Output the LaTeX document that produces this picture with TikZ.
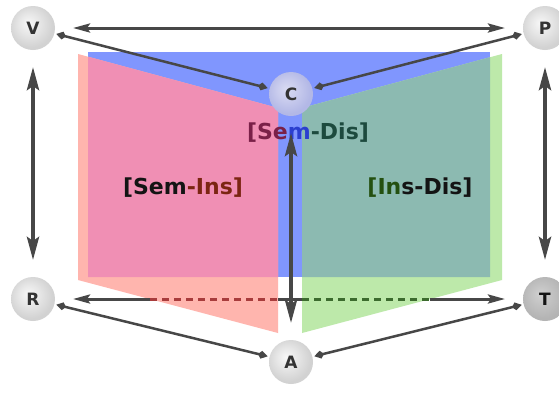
\documentclass[tikz,border=0pt]{standalone}
\usepackage{fontspec}
\setsansfont{DejaVu Sans}
\usetikzlibrary{arrows.meta}
\definecolor{arrgray}{HTML}{474747}
\definecolor{pblue}{HTML}{8096FE}
\definecolor{psalmon}{HTML}{FFB5AE}
\definecolor{ppink}{HTML}{F08FB4}
\definecolor{pgreen}{HTML}{BDE9AA}
\definecolor{pteal}{HTML}{8CBAB1}
\definecolor{dashred}{HTML}{A83C3C}
\definecolor{dashgreen}{HTML}{3C6B2E}
\definecolor{tmaroon}{HTML}{7A2048}
\definecolor{tblue}{HTML}{2B3FCF}
\definecolor{tteal}{HTML}{1D4A3E}
\definecolor{tred}{HTML}{7B2512}
\definecolor{tgreen}{HTML}{245010}
\definecolor{tdark}{HTML}{141414}
\definecolor{ndtext}{HTML}{333333}
\definecolor{ballA}{HTML}{F7F7F7}
\definecolor{ballB}{HTML}{E6E6E6}
\definecolor{ballC}{HTML}{D2D2D2}
\definecolor{tballA}{HTML}{D0D0D0}
\definecolor{tballB}{HTML}{C2C2C2}
\definecolor{tballC}{HTML}{B4B4B4}
\definecolor{cballA}{HTML}{D8DAF2}
\definecolor{cballB}{HTML}{C8CBED}
\definecolor{cballC}{HTML}{B3B8E6}
\pgfdeclareradialshading{nodeball}{\pgfpoint{-6bp}{6bp}}{color(0bp)=(ballA); color(12bp)=(ballB); color(25bp)=(ballC); color(50bp)=(ballC)}
\pgfdeclareradialshading{nodeballdark}{\pgfpoint{-6bp}{6bp}}{color(0bp)=(tballA); color(12bp)=(tballB); color(25bp)=(tballC); color(50bp)=(tballC)}
\pgfdeclareradialshading{nodeballc}{\pgfpoint{-6bp}{6bp}}{color(0bp)=(cballA); color(12bp)=(cballB); color(25bp)=(cballC); color(50bp)=(cballC)}
\tikzset{
  ballnode/.style={circle, minimum size=44pt, inner sep=0pt, outer sep=0pt, shading=nodeball,
    text=ndtext, font=\sffamily\bfseries\fontsize{17}{19}\selectfont},
  hline/.style={draw=arrgray, line width=3pt},
  harrow/.style={hline, {Stealth[length=17pt,width=9pt,inset=3pt]}-{Stealth[length=17pt,width=9pt,inset=3pt]}, shorten <=18pt, shorten >=18pt},
  varrow/.style={draw=arrgray, line width=4pt, {Stealth[length=23pt,width=12pt,inset=4pt]}-{Stealth[length=23pt,width=12pt,inset=4pt]}, shorten <=17pt, shorten >=17pt},
  darrow/.style={draw=arrgray, line width=2.5pt, {Kite[length=10pt,width=8pt,inset=3.5pt]}-{Kite[length=10pt,width=8pt,inset=3.5pt]}, shorten <=2pt, shorten >=2pt},
  dashseg/.style={line width=3pt, dash pattern=on 7pt off 5pt},
  biglabel/.style={font=\sffamily\bfseries\fontsize{22}{26}\selectfont, inner sep=0pt},
}
\begin{document}
\begin{tikzpicture}[x=1pt, y=-1pt]
\clip (0,0) rectangle (559,392);
\fill[white] (0,0) rectangle (559,392);
% panels
\fill[pblue] (88,52) rectangle (490,277);
\fill[psalmon] (78,54) -- (278,108) -- (278,333) -- (78,280) -- cycle;
\fill[pgreen] (302,108) -- (502,54) -- (502,280) -- (302,333) -- cycle;
\fill[ppink] (88,56.7) -- (278,108) -- (278,277) -- (88,277) -- cycle;
\fill[pteal] (302,108) -- (490,57.2) -- (490,277) -- (302,277) -- cycle;
% nodes
\node[ballnode] (V) at (33,28) {V};
\node[ballnode] (P) at (545,28) {P};
\node[ballnode, shading=nodeballc] (C) at (291,94) {C};
\node[ballnode] (R) at (33,299) {R};
\node[ballnode, shading=nodeballdark, text=tdark] (T) at (545,299) {T};
\node[ballnode] (A) at (291,362) {A};
% labels
\node[biglabel] (lsd) at (308,133) {\textcolor{tmaroon}{[Se}\textcolor{tblue}{m}\textcolor{tteal}{-Dis]}};
\node[biglabel] (lsi) at (183,188) {\textcolor{tdark}{[Sem}\textcolor{tred}{-Ins]}};
\node[biglabel] (lid) at (420,188) {\textcolor{tgreen}{[In}\textcolor{tdark}{s-Dis]}};
% bottom line segments
\coordinate (b1) at (150,299);
\coordinate (b2) at (278,299);
\coordinate (b3) at (302,299);
\coordinate (b4) at (430,299);
\draw[hline, -{Stealth[length=17pt,width=9pt,inset=3pt]}, shorten >=18pt] (b1) -- (R);
\draw[dashseg, draw=dashred] (b1) -- (b2);
\draw[hline] (b2) -- (b3);
\draw[dashseg, draw=dashgreen] (b3) -- (b4);
\draw[hline, -{Stealth[length=17pt,width=9pt,inset=3pt]}, shorten >=18pt] (b4) -- (T);
% top horizontal
\draw[harrow] (V) -- (P);
% verticals
\draw[varrow] (V) -- (R);
\draw[varrow] (P) -- (T);
\draw[varrow] (C) -- (A);
% diagonals
\draw[darrow] (V) -- (C);
\draw[darrow] (C) -- (P);
\draw[darrow] (R) -- (A);
\draw[darrow] (A) -- (T);
\end{tikzpicture}
\end{document}
